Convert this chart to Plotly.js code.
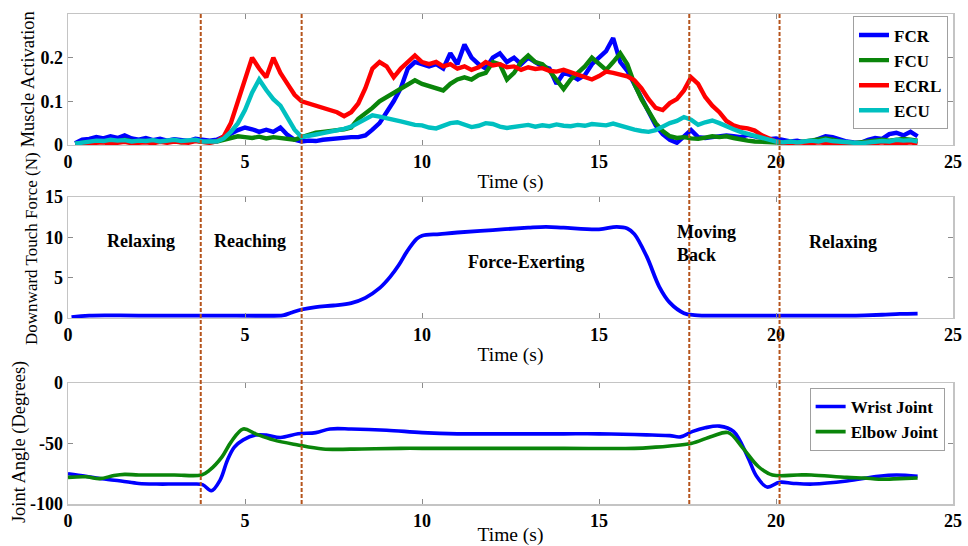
<!DOCTYPE html>
<html>
<head>
<meta charset="utf-8">
<script src="https://cdn.plot.ly/plotly-3.0.1.min.js"></script>
<style>html,body{margin:0;padding:0;background:#fff;}#chart{width:968px;height:546px;}</style>
</head>
<body>
<div id="chart"></div>
<script>
// ---- Panel 1: muscle activation (time in s) ----
const emgTime = [0.2,0.4,0.6,0.8,1.0,1.2,1.4,1.6,1.8,2.0,
2.2,2.4,2.6,2.8,3.0,3.2,3.4,3.6,3.8,4.0,
4.2,4.4,4.6,4.8,5.0,5.2,5.4,5.6,5.8,6.0,
6.2,6.4,6.6,6.8,7.0,7.2,7.4,7.6,7.8,8.0,
8.2,8.4,8.6,8.8,9.0,9.2,9.4,9.6,9.8,10.0,
10.2,10.4,10.6,10.8,11.0,11.2,11.4,11.6,11.8,12.0,
12.2,12.4,12.6,12.8,13.0,13.2,13.4,13.6,13.8,14.0,
14.2,14.4,14.6,14.8,15.0,15.2,15.4,15.6,15.8,16.0,
16.2,16.4,16.6,16.8,17.0,17.2,17.4,17.6,17.8,18.0,
18.2,18.4,18.6,18.8,19.0,19.2,19.4,19.6,19.8,20.0,
20.2,20.4,20.6,20.8,21.0,21.2,21.4,21.6,21.8,22.0,
22.2,22.4,22.6,22.8,23.0,23.2,23.4,23.6,23.8,24.0];

const fcr = [0.004,0.012,0.014,0.018,0.015,0.02,0.016,0.022,0.015,0.012,
0.016,0.011,0.014,0.01,0.013,0.012,0.009,0.014,0.012,0.01,
0.012,0.018,0.026,0.034,0.04,0.036,0.03,0.035,0.03,0.04,
0.023,0.012,0.008,0.01,0.009,0.012,0.014,0.016,0.017,0.018,
0.018,0.022,0.035,0.05,0.075,0.1,0.13,0.175,0.19,0.185,
0.18,0.185,0.175,0.21,0.185,0.23,0.2,0.185,0.175,0.2,
0.21,0.19,0.2,0.185,0.2,0.19,0.18,0.175,0.14,0.165,
0.16,0.15,0.16,0.185,0.2,0.215,0.245,0.19,0.17,0.14,
0.11,0.075,0.045,0.025,0.012,0.005,0.02,0.034,0.018,0.016,
0.018,0.02,0.022,0.02,0.018,0.023,0.02,0.016,0.013,0.015,
0.012,0.008,0.01,0.006,0.008,0.015,0.02,0.018,0.012,0.008,
0.006,0.005,0.012,0.016,0.014,0.025,0.028,0.022,0.03,0.02];

const fcu = [0.003,0.005,0.006,0.008,0.007,0.01,0.008,0.012,0.009,0.007,
0.009,0.006,0.008,0.007,0.009,0.006,0.008,0.01,0.007,0.006,
0.008,0.012,0.017,0.02,0.018,0.016,0.019,0.015,0.018,0.016,
0.014,0.012,0.018,0.024,0.028,0.03,0.033,0.034,0.036,0.04,
0.06,0.072,0.085,0.1,0.11,0.12,0.128,0.14,0.148,0.14,
0.135,0.13,0.125,0.14,0.15,0.155,0.15,0.16,0.165,0.19,
0.185,0.15,0.165,0.19,0.205,0.19,0.185,0.17,0.15,0.128,
0.15,0.165,0.18,0.2,0.185,0.172,0.19,0.21,0.185,0.14,
0.105,0.075,0.05,0.032,0.02,0.016,0.018,0.015,0.014,0.017,
0.02,0.018,0.02,0.016,0.012,0.01,0.008,0.007,0.008,0.007,
0.005,0.007,0.006,0.008,0.01,0.012,0.015,0.012,0.008,0.005,
0.004,0.005,0.008,0.01,0.012,0.01,0.012,0.014,0.012,0.01];

const ecrl = [0.002,0.003,0.005,0.004,0.006,0.003,0.005,0.007,0.004,0.005,
0.006,0.004,0.007,0.005,0.008,0.006,0.005,0.009,0.006,0.005,
0.008,0.02,0.05,0.1,0.15,0.2,0.175,0.155,0.2,0.165,
0.14,0.115,0.1,0.095,0.09,0.085,0.08,0.075,0.066,0.075,
0.095,0.13,0.175,0.19,0.18,0.155,0.175,0.19,0.205,0.19,
0.185,0.19,0.18,0.185,0.175,0.18,0.172,0.178,0.19,0.182,
0.185,0.178,0.18,0.172,0.178,0.174,0.176,0.17,0.168,0.172,
0.167,0.16,0.155,0.15,0.158,0.168,0.165,0.16,0.157,0.148,
0.13,0.105,0.085,0.08,0.096,0.105,0.125,0.155,0.14,0.11,
0.09,0.075,0.055,0.045,0.04,0.038,0.033,0.022,0.014,0.008,
0.005,0.004,0.006,0.005,0.004,0.006,0.005,0.003,0.005,0.004,
0.003,0.004,0.005,0.004,0.006,0.003,0.005,0.004,0.006,0.003];

const ecu = [0.003,0.006,0.008,0.01,0.009,0.012,0.01,0.011,0.008,0.01,
0.009,0.011,0.008,0.01,0.012,0.009,0.01,0.012,0.008,0.007,
0.008,0.015,0.03,0.05,0.08,0.12,0.15,0.126,0.105,0.09,
0.064,0.035,0.018,0.02,0.024,0.027,0.03,0.033,0.037,0.042,
0.05,0.058,0.068,0.065,0.062,0.058,0.054,0.05,0.046,0.045,
0.04,0.038,0.045,0.05,0.052,0.046,0.041,0.044,0.05,0.048,
0.042,0.039,0.042,0.044,0.046,0.042,0.045,0.043,0.047,0.044,
0.043,0.046,0.044,0.048,0.047,0.045,0.049,0.044,0.04,0.035,
0.032,0.03,0.034,0.042,0.05,0.055,0.064,0.058,0.046,0.052,
0.056,0.05,0.042,0.036,0.03,0.025,0.02,0.015,0.012,0.008,
0.006,0.008,0.006,0.008,0.01,0.008,0.012,0.009,0.007,0.006,
0.005,0.004,0.006,0.008,0.009,0.008,0.012,0.01,0.011,0.008];

// ---- Panel 2: downward touch force (N) ----
const forceTime = [0.1,0.6,2,4,6,6.1,6.3,6.6,7,7.5,8,8.4,8.8,9.1,9.35,9.57,9.85,10,10.5,11,12,13,13.5,14,15,15.5,15.8,16,16.35,16.7,17,17.4,17.7,18,20,22,22.5,23,23.5,24];
const forceVal  = [0.1,0.3,0.3,0.3,0.3,0.35,0.65,1.05,1.35,1.55,1.85,2.5,3.7,5.1,6.6,8.2,9.8,10.2,10.4,10.6,10.9,11.2,11.3,11.2,11.0,11.3,11.1,10.4,7.6,3.9,1.9,0.6,0.35,0.3,0.3,0.3,0.33,0.4,0.5,0.55];

// ---- Panel 3: joint angles (degrees) ----
const wristTime = [0,0.5,0.9,1.5,2,2.5,3,3.5,3.8,4.05,4.3,4.5,4.7,4.95,5.3,5.6,6.0,6.5,7.0,7.4,8,9,10,11,12,13,14,15,16,16.5,17,17.3,17.65,18,18.4,18.8,19.2,19.45,19.75,20.1,20.5,21.05,22,22.9,23.4,24];
const wristVal  = [-75,-77,-79,-81,-83,-83.5,-83.5,-83.5,-84,-89,-80,-64,-53,-47,-43,-43,-45,-42,-41,-38,-38,-39,-41,-42,-42,-42,-42,-42,-42.5,-43,-43.5,-44.5,-40,-37,-35.6,-40,-61,-77,-86,-82,-83,-83.5,-81,-77,-76,-77];
const elbowTime = [0,0.5,0.9,1.3,1.6,2,3,3.77,4.0,4.35,4.6,4.95,5.3,5.8,6.46,7.2,8.3,9.4,10,12,14,16,16.6,17,17.6,18.2,18.65,19.07,19.5,19.9,20.6,21,22,22.5,22.9,23.5,24];
const elbowVal  = [-78,-77.5,-79,-76.5,-75.5,-76,-76,-76,-72,-61,-49,-38,-42,-47,-51,-54.5,-54.5,-54,-54,-54,-54,-54,-53,-52,-50,-44,-41,-54,-69,-76,-76,-76,-78,-78.5,-79.5,-79,-78.5];

// ---- Tick labels, phase labels, phase boundaries ----
const xTicks = [0,5,10,15,20,25];
const y1Ticks = [0,0.1,0.2];
const y1Text = ['0','0.1','0.2'];
const y2Ticks = [0,5,10,15];
const y3Ticks = [-100,-50,0];
const y3Text = ['-100','-50','0'];
const phaseBounds = [3.75,6.6,17.55,20.1];
const phaseNames = ['Relaxing','Reaching','Force-Exerting','Moving<br>Back','Relaxing'];
const phaseX = [2.05,5.15,12.95,18.05,21.9];
const phaseY = [9.6,9.6,6.9,9.2,9.4];

const serif = 'Liberation Serif, Times New Roman, serif';
const C = {blue:'#0000ff', green:'#0a850a', red:'#ff0000', cyan:'#00c0c0'};
const emgW = 4.4;

const traces = [
  {x: emgTime, y: fcr,  name:'FCR',  type:'scatter', mode:'lines', line:{color:C.blue, width:emgW}, xaxis:'x', yaxis:'y', legend:'legend'},
  {x: emgTime, y: fcu,  name:'FCU',  type:'scatter', mode:'lines', line:{color:C.green, width:emgW}, xaxis:'x', yaxis:'y', legend:'legend'},
  {x: emgTime, y: ecrl, name:'ECRL', type:'scatter', mode:'lines', line:{color:C.red, width:emgW}, xaxis:'x', yaxis:'y', legend:'legend'},
  {x: emgTime, y: ecu,  name:'ECU',  type:'scatter', mode:'lines', line:{color:C.cyan, width:emgW}, xaxis:'x', yaxis:'y', legend:'legend'},
  {x: forceTime, y: forceVal, name:'Force', type:'scatter', mode:'lines', line:{color:C.blue, width:3.8, shape:'spline'}, xaxis:'x2', yaxis:'y2', showlegend:false},
  {x: wristTime, y: wristVal, name:'Wrist Joint', type:'scatter', mode:'lines', line:{color:C.blue, width:3.6, shape:'spline'}, xaxis:'x3', yaxis:'y3', legend:'legend2'},
  {x: elbowTime, y: elbowVal, name:'Elbow Joint', type:'scatter', mode:'lines', line:{color:C.green, width:3.6, shape:'spline'}, xaxis:'x3', yaxis:'y3', legend:'legend2'}
];

const tickFont = {family: serif, size: 18, color:'#000', weight:'bold'};
const titleFont = {family: serif, size: 19.5, color:'#000'};
function xAx(anchor){
  return {anchor: anchor, range:[0,25], tickvals:xTicks, ticks:'inside', ticklen:5, tickcolor:'#8c8c8c',
    showline:true, linecolor:'#c4c4c4', linewidth:1.5, mirror:'ticks', showgrid:false, zeroline:false,
    tickfont:tickFont, title:{text:'Time (s)', font:titleFont, standoff:3}, automargin:false};
}
function yAx(dom, range, vals, text){
  const a = {domain:dom, range:range, tickvals:vals, ticks:'inside', ticklen:5, tickcolor:'#8c8c8c',
    showline:true, linecolor:'#c4c4c4', linewidth:1.5, mirror:'ticks', showgrid:false, zeroline:false,
    tickfont:tickFont, automargin:false};
  if (text) a.ticktext = text;
  return a;
}

const shapes = phaseBounds.map(b => ({type:'line', xref:'x', yref:'paper', x0:b, x1:b, y0:0, y1:1,
  line:{color:'#b5541c', width:2, dash:'4px,2px'}, layer:'above'}));

const annotations = phaseNames.map((n,i) => ({xref:'x2', yref:'y2', x:phaseX[i], y:phaseY[i], text:n, showarrow:false,
  font:{family:serif, size:18, color:'#000', weight:'bold'}, align:'left', xanchor:'center', yanchor:'middle'}));
annotations.push(
  {xref:'paper', yref:'paper', x:-0.045, y:0.867, text:'Muscle Activation', textangle:-90, showarrow:false, font:{family:serif, size:18.5, color:'#000'}, xanchor:'center', yanchor:'middle'},
  {xref:'paper', yref:'paper', x:-0.041, y:0.522, text:'Downward Touch Force (N)', textangle:-90, showarrow:false, font:{family:serif, size:17, color:'#000'}, xanchor:'center', yanchor:'middle'},
  {xref:'paper', yref:'paper', x:-0.055, y:0.127, text:'Joint Angle (Degrees)', textangle:-90, showarrow:false, font:{family:serif, size:18.5, color:'#000'}, xanchor:'center', yanchor:'middle'}
);

const legFont = {family:serif, size:17, color:'#000', weight:'bold'};
const layout = {
  width:968, height:546,
  margin:{l:68, r:15, t:14, b:42},
  paper_bgcolor:'#fff', plot_bgcolor:'#fff',
  showlegend:true,
  xaxis: xAx('y'),
  yaxis: yAx([0.7327,1], [0,0.3], y1Ticks, y1Text),
  xaxis2: xAx('y2'),
  yaxis2: yAx([0.3796,0.6265], [0,15], y2Ticks),
  xaxis3: xAx('y3'),
  yaxis3: yAx([0,0.2469], [-100,0], y3Ticks, y3Text),
  legend: {x:0.887, y:0.995, xanchor:'left', yanchor:'top', bgcolor:'#fff', bordercolor:'#a0a0a0', borderwidth:1,
    font:legFont, tracegroupgap:0},
  legend2: {x:0.838, y:0.2367, xanchor:'left', yanchor:'top', bgcolor:'#fff', bordercolor:'#a0a0a0', borderwidth:1,
    font:legFont, tracegroupgap:0},
  shapes: shapes,
  annotations: annotations
};

Plotly.newPlot('chart', traces, layout, {displayModeBar:false, staticPlot:true});
</script>
</body>
</html>
